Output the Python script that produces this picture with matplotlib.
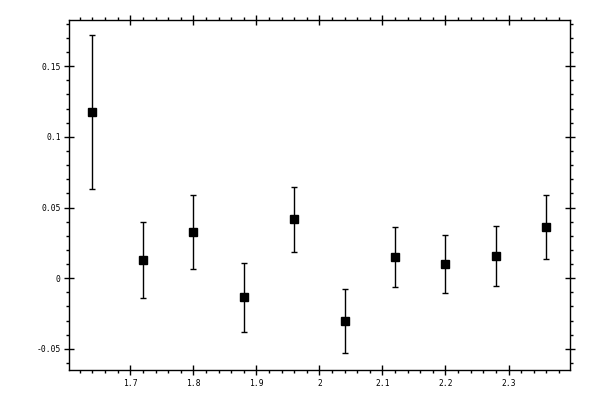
import matplotlib
matplotlib.use("Agg")
import matplotlib.pyplot as plt
from matplotlib.ticker import MultipleLocator, FormatStrFormatter

# valeurs
x_vals = [1.64, 1.72, 1.80, 1.88, 1.96, 2.04, 2.12, 2.20, 2.28, 2.36]
y_vals = [0.1176, 0.0128, 0.0326, -0.0135, 0.0418, -0.0305, 0.0149, 0.0099, 0.0156, 0.0362]
y_err = [0.0546, 0.0268, 0.0259, 0.0245, 0.0230, 0.0228, 0.0215, 0.0204, 0.0212, 0.0224]

fig = plt.figure(figsize=(6, 4), dpi=100)
ax = fig.add_axes([0.1158, 0.074, 0.8347, 0.877])

ax.errorbar(x_vals, y_vals, yerr=y_err, fmt='s', color='black',
            markersize=5.3, elinewidth=1, capsize=2, capthick=1)

ax.set_xlim(1.6035, 2.398)
ax.set_ylim(-0.0653, 0.183)

ax.xaxis.set_major_locator(MultipleLocator(0.1))
ax.xaxis.set_minor_locator(MultipleLocator(0.02))
ax.yaxis.set_major_locator(MultipleLocator(0.05))
ax.yaxis.set_minor_locator(MultipleLocator(0.01))
ax.xaxis.set_major_formatter(FormatStrFormatter('%g'))
ax.yaxis.set_major_formatter(FormatStrFormatter('%g'))

ax.tick_params(which='both', top=True, right=True, labelsize=5.8, width=1)
ax.tick_params(which='major', direction='inout', length=6.5, pad=3)
ax.tick_params(which='minor', direction='out', length=2.5)
for lab in ax.get_xticklabels() + ax.get_yticklabels():
    lab.set_family('DejaVu Sans Mono')

for sp in ax.spines.values():
    sp.set_linewidth(1)

fig.savefig('out.png', dpi=100)
